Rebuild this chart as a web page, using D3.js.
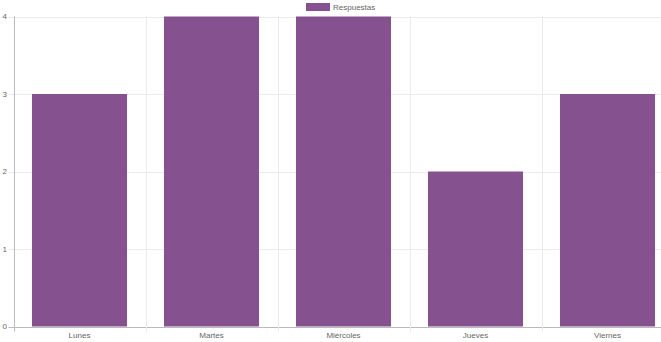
<!DOCTYPE html>
<html><head><meta charset="utf-8">
<script src="https://cdn.jsdelivr.net/npm/d3@7"></script>
<style>body{margin:0;background:#fff}svg{display:block}text{font-family:"Liberation Sans",Arial,sans-serif;fill:#666}</style>
</head><body><svg id="c" width="661" height="342"></svg>
<script>
const categories = ["Lunes","Martes","Miércoles","Jueves","Viernes"];
const values = [3,4,4,2,3];
const yTicks = [0,1,2,3,4];
const seriesName = "Respuestas";

(function(){
const svg = d3.select("#c");
const pL = 13.5, pR = 673.5, pT = 16.5, pB = 326.5;
const color = "#85528f";

const x = d3.scaleBand().domain(categories).range([pL, pR]).paddingInner(0).paddingOuter(0);
const y = d3.scaleLinear().domain([0,4]).range([pB, pT]);

// horizontal grid
svg.append("g").selectAll("line").data(yTicks).join("line")
  .attr("x1", pL-5).attr("x2", pR)
  .attr("y1", d=>Math.round(y(d))+0.5).attr("y2", d=>Math.round(y(d))+0.5)
  .attr("stroke", d=>d===0? "#bbb":"#ebebeb").attr("stroke-width",1);
// vertical grid at category boundaries
const bounds = categories.map(c=>x(c)).concat([pR]);
svg.append("g").selectAll("line").data(bounds).join("line")
  .attr("x1", d=>Math.round(d)+0.5).attr("x2", d=>Math.round(d)+0.5)
  .attr("y1", pT).attr("y2", pB+5)
  .attr("stroke", (d,i)=> i===0? "#bbb":"#ebebeb");

// bars
const bw = x.bandwidth()*0.72;
svg.append("g").selectAll("rect").data(values).join("rect")
  .attr("x", (d,i)=> x(categories[i]) + (x.bandwidth()-bw)/2)
  .attr("width", bw)
  .attr("y", d=>y(d)).attr("height", d=>y(0)-y(d))
  .attr("fill", color);

// y labels
svg.append("g").selectAll("text").data(yTicks).join("text")
  .attr("x", 7).attr("y", d=>y(d)).attr("dy","0.35em")
  .attr("text-anchor","end").attr("font-size",8).text(d=>d);
// x labels
svg.append("g").selectAll("text").data(categories).join("text")
  .attr("x", d=>x(d)+x.bandwidth()/2).attr("y", 335).attr("dy","0.35em")
  .attr("text-anchor","middle").attr("font-size",8).text(d=>d);

// legend
const lg = svg.append("g");
lg.append("rect").attr("x",306).attr("y",3).attr("width",24).attr("height",8).attr("fill",color);
lg.append("text").attr("x",333).attr("y",7).attr("dy","0.35em").attr("font-size",8).text(seriesName);
})();
</script></body></html>
